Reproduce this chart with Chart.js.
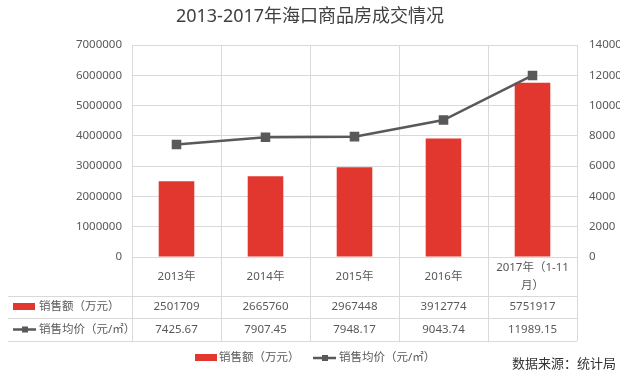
<!DOCTYPE html>
<html>
<head>
<meta charset="utf-8">
<script src="https://cdn.jsdelivr.net/npm/chart.js@4/dist/chart.umd.min.js"></script>
<style>
  html, body { margin: 0; padding: 0; background: #fff; }
  #wrap { width: 640px; height: 381px; position: relative; }
</style>
</head>
<body>
<div id="wrap"><canvas id="salesChart"></canvas></div>
<script>
/* ================= DATA ================= */
const years = ["2013年", "2014年", "2015年", "2016年", ["2017年（1-11", "月）"]];
const salesAmount = [2501709, 2665760, 2967448, 3912774, 5751917];
const avgPrice = [7425.67, 7907.45, 7948.17, 9043.74, 11989.15];
const salesLabel = "销售额（万元）";
const priceLabel = "销售均价（元/㎡）";
const chartTitle = "2013-2017年海口商品房成交情况";
const sourceNote = "数据来源：统计局";

/* ================= STYLE ================= */
const FONT = "'Noto Sans', 'Noto Sans CJK SC', sans-serif";
const RED = "#e2372f";
const GREY_LINE = "#595959";
const GRID = "#d9d9d9";
const TEXT = "#595959";

/* ================= TABLE + LEGEND PLUGIN ================= */
const dataTablePlugin = {
    id: "dataTable",
    afterDraw(chart) {
        const ctx = chart.ctx;
        const area = chart.chartArea;
        const x = chart.scales.x;
        const step = x.getPixelForValue(1) - x.getPixelForValue(0);
        const rowTop = area.bottom + 39;
        const row1 = rowTop + 22;
        const row2 = row1 + 23;
        const tableLeft = 8;

        ctx.save();
        ctx.strokeStyle = GRID;
        ctx.lineWidth = 1;

        // vertical dividers through the table
        for (let i = 0; i <= years.length; i++) {
            const px = Math.round(x.getPixelForValue(0) - step / 2 + i * step) + 0.5;
            ctx.beginPath();
            ctx.moveTo(px, area.bottom);
            ctx.lineTo(px, row2);
            ctx.stroke();
        }
        // horizontal row lines
        [rowTop, row1, row2].forEach(y => {
            ctx.beginPath();
            ctx.moveTo(tableLeft, Math.round(y) + 0.5);
            ctx.lineTo(area.right, Math.round(y) + 0.5);
            ctx.stroke();
        });

        ctx.font = "11.5px " + FONT;
        ctx.fillStyle = TEXT;
        ctx.textBaseline = "middle";

        // row values
        ctx.textAlign = "center";
        const y1 = (rowTop + row1) / 2;
        const y2 = (row1 + row2) / 2;
        salesAmount.forEach((v, i) => ctx.fillText(String(v), x.getPixelForValue(i), y1));
        avgPrice.forEach((v, i) => ctx.fillText(v.toFixed(2), x.getPixelForValue(i), y2));

        // row headers
        ctx.textAlign = "left";
        drawBarKey(ctx, 13, y1);
        ctx.fillStyle = TEXT;
        ctx.fillText(salesLabel, 39, y1);
        drawLineKey(ctx, 13, y2);
        ctx.fillStyle = TEXT;
        ctx.fillText(priceLabel, 39, y2);

        // bottom legend
        const ly = 358;
        drawBarKey(ctx, 195, ly);
        ctx.fillStyle = TEXT;
        ctx.fillText(salesLabel, 219, ly);
        drawLineKey(ctx, 313, ly);
        ctx.fillStyle = TEXT;
        ctx.fillText(priceLabel, 339, ly);

        // source note
        ctx.font = "13px " + FONT;
        ctx.fillStyle = "#333333";
        ctx.textAlign = "right";
        ctx.fillText(sourceNote, 616, 364);
        ctx.restore();
    }
};

function drawBarKey(ctx, x, y) {
    ctx.fillStyle = RED;
    ctx.fillRect(x, y - 4, 22, 7);
}

function drawLineKey(ctx, x, y) {
    ctx.strokeStyle = GREY_LINE;
    ctx.lineWidth = 2.5;
    ctx.beginPath();
    ctx.moveTo(x, y);
    ctx.lineTo(x + 23, y);
    ctx.stroke();
    ctx.fillStyle = GREY_LINE;
    ctx.fillRect(x + 9, y - 3, 6, 6);
    ctx.strokeStyle = GRID;
    ctx.lineWidth = 1;
}

/* ================= CHART ================= */
new Chart(document.getElementById("salesChart"), {
    data: {
        labels: years,
        datasets: [
            {
                type: "line",
                label: priceLabel,
                data: avgPrice,
                yAxisID: "y1",
                borderColor: GREY_LINE,
                backgroundColor: GREY_LINE,
                borderWidth: 2.5,
                pointStyle: "rect",
                pointRadius: 5,
                tension: 0,
                order: 0
            },
            {
                type: "bar",
                label: salesLabel,
                data: salesAmount,
                yAxisID: "y",
                backgroundColor: RED,
                categoryPercentage: 1,
                barPercentage: 0.4,
                order: 1
            }
        ]
    },
    options: {
        responsive: true,
        maintainAspectRatio: false,
        animation: false,
        layout: { padding: { left: 0, right: 20, top: 0, bottom: 0 } },
        plugins: {
            legend: { display: false },
            tooltip: { enabled: false },
            title: {
                display: true,
                text: chartTitle,
                color: "#404040",
                font: { family: FONT, size: 18, weight: "normal" },
                padding: { top: 6, bottom: 17.4 }
            }
        },
        scales: {
            x: {
                grid: { color: GRID, drawTicks: false, offset: true },
                border: { display: false },
                ticks: {
                    color: TEXT,
                    font: { family: FONT, size: 11.5, lineHeight: 1.55 },
                    padding: 11,
                    crossAlign: "center",
                    maxRotation: 0,
                    autoSkip: false
                },
                afterFit(scale) { scale.height = 124; }
            },
            y: {
                position: "left",
                min: 0,
                max: 7000000,
                grid: { color: GRID, drawTicks: false },
                border: { display: false },
                ticks: {
                    stepSize: 1000000,
                    color: TEXT,
                    padding: 10,
                    font: { family: FONT, size: 11.5 },
                    callback: v => String(v)
                },
                afterFit(scale) { scale.width = 132; }
            },
            y1: {
                position: "right",
                min: 0,
                max: 14000,
                grid: { drawOnChartArea: false, drawTicks: false },
                border: { display: false },
                ticks: {
                    stepSize: 2000,
                    color: TEXT,
                    padding: 12,
                    font: { family: FONT, size: 11.5 },
                    callback: v => String(v)
                },
                afterFit(scale) { scale.width = 43; }
            }
        }
    },
    plugins: [dataTablePlugin]
});
</script>
</body>
</html>
